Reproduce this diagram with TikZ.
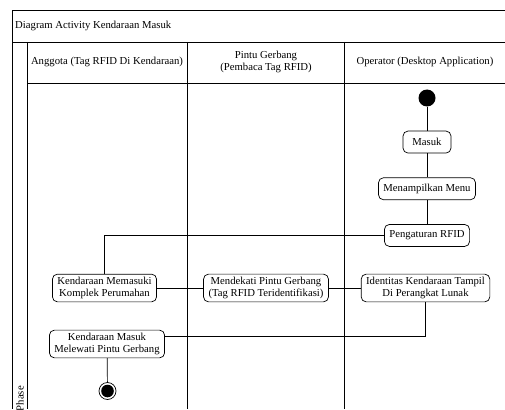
\documentclass[tikz,border=0pt]{standalone}
\usepackage{fontspec}
\setmainfont{Liberation Serif}
\usetikzlibrary{positioning}

\begin{document}
\begin{tikzpicture}[
    x=1pt, y=-1pt,
    node distance=24pt,
    every node/.style={font=\fontsize{10.7}{12}\selectfont},
    act/.style={draw, rounded corners=5pt, align=center, minimum height=22pt, minimum width=48pt, inner xsep=5pt, inner ysep=3pt, line width=0.7pt},
    startnode/.style={circle, fill=black, minimum size=17pt, inner sep=0pt},
    endnode/.style={circle, draw, minimum size=17pt, inner sep=0pt, line width=0.7pt,
      path picture={\fill (path picture bounding box.center) circle (6.3pt);}},
    lane/.style={line width=0.8pt},
    flow/.style={line width=0.7pt}
  ]

  \useasboundingbox (0,0) rectangle (505,409);
  \clip (0,0) rectangle (505,409);

  % --- Frame and swimlanes ---
  \draw[lane] (505,10) -- (12,10) -- (12,409);
  \draw[lane] (12,42) -- (505,42);
  \draw[lane] (27,83) -- (505,83);
  \draw[lane] (27,42) -- (27,409);
  \draw[lane] (187,42) -- (187,409);
  \draw[lane] (344,42) -- (344,409);

  % --- Title, headers, phase ---
  \node[anchor=west, inner sep=0pt] (judul) at (15,26) {Diagram Activity Kendaraan Masuk};
  \node[align=center] (hanggota) at (107,62) {Anggota (Tag RFID Di Kendaraan)};
  \node[align=center] (hpintu) at (266,62) {Pintu Gerbang\\(Pembaca Tag RFID)};
  \node[align=center] (hoperator) at (425,62) {Operator (Desktop Application)};
  \node[rotate=90, anchor=east, inner sep=0pt] (fase) at (20,386) {Phase};

  % --- Operator lane ---
  \node[startnode] (mulai) at (427,98) {};
  \node[act, below=of mulai] (masuk) {Masuk};
  \node[act, below=of masuk] (menu) {Menampilkan Menu};
  \node[act, below=of menu] (atur) {Pengaturan RFID};

  % --- Middle row ---
  \node[act] (komplek) at (104.5,288) {Kendaraan Memasuki\\Komplek Perumahan};
  \node[act] (dekat) at (266,288) {Mendekati Pintu Gerbang\\(Tag RFID Teridentifikasi)};
  \node[act] (identitas) at (425.5,288) {Identitas Kendaraan Tampil\\Di Perangkat Lunak};

  % --- Exit ---
  \node[act] (lewat) at (107,344) {Kendaraan Masuk\\Melewati Pintu Gerbang};
  \node[endnode] (selesai) at (107.5,391) {};

  % --- Connectors ---
  \draw[flow] (mulai) -- (masuk);
  \draw[flow] (masuk) -- (menu);
  \draw[flow] (menu) -- (atur);
  \draw[flow] (atur.west) -| (komplek.north);
  \draw[flow] (komplek) -- (dekat);
  \draw[flow] (dekat) -- (identitas);
  \draw[flow] (identitas.south) |- ([yshift=7.5pt]lewat.east);
  \draw[flow] (lewat) -- (selesai);

\end{tikzpicture}
\end{document}
